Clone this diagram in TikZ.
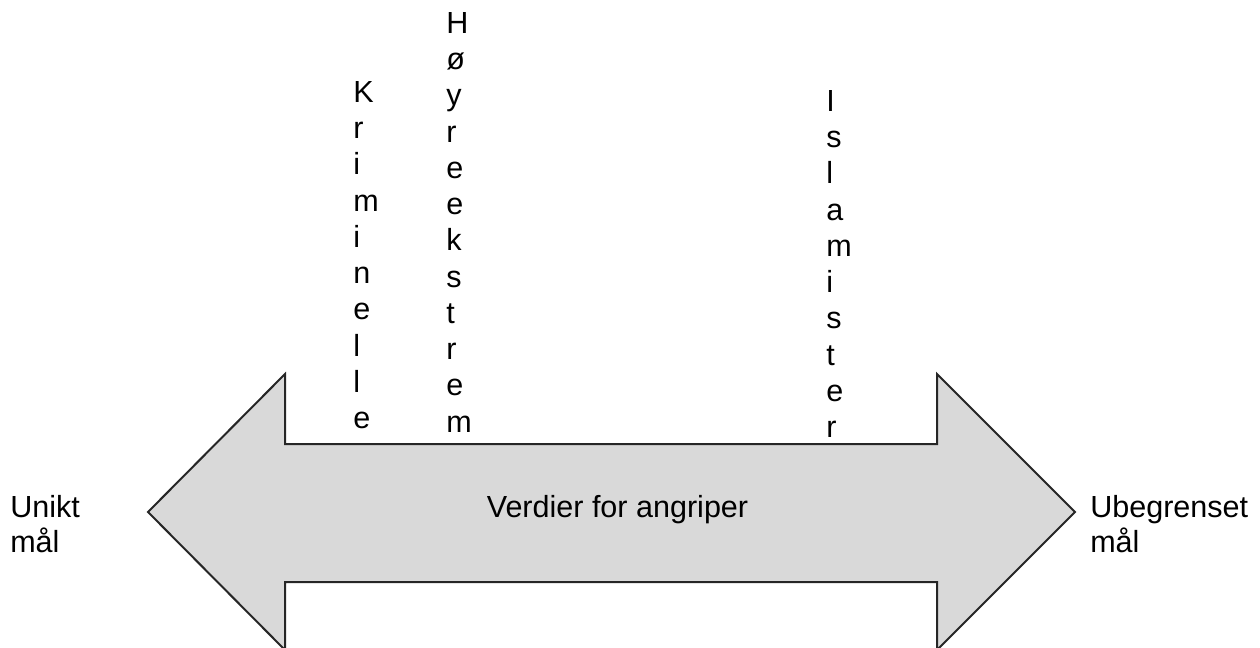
\documentclass[tikz,border=0pt]{standalone}
\usepackage{fontspec}
\setmainfont{Liberation Sans}
\begin{document}
\begin{tikzpicture}[x=0.75pt,y=-0.75pt,
  vtext/.style={inner sep=0pt, font=\fontsize{22.9}{27.2}\selectfont, align=left, anchor=north west},
  endlbl/.style={inner sep=0pt, font=\fontsize{22.9}{26.3}\selectfont, align=left, anchor=north west},
  bigarrow/.style={fill=black!15, draw=black!85, line width=1.5pt, line join=miter}]
\useasboundingbox (0,0) rectangle (1260,648);
\draw[bigarrow] (148,512) -- (285,374) -- (285,444) -- (937,444) -- (937,374)
  -- (1075,512) -- (937,650) -- (937,582) -- (285,582) -- (285,650) -- cycle;
\node[inner sep=0pt, font=\fontsize{22.9}{27.2}\selectfont, anchor=base] (mid) at (617.5,517) {Verdier for angriper};
\node[vtext] (krim) at (353,81) {K\\r\\i\\m\\i\\n\\e\\l\\l\\e};
\node[vtext] (hoyre) at (446,12) {H\\ø\\y\\r\\e\\e\\k\\s\\t\\r\\e\\m};
\node[vtext] (islam) at (826,90) {I\\s\\l\\a\\m\\i\\s\\t\\e\\r};
\node[endlbl] (unikt) at (10,495) {Unikt\\mål};
\node[endlbl] (ubeg) at (1090,495) {Ubegrenset\\mål};
\end{tikzpicture}
\end{document}
